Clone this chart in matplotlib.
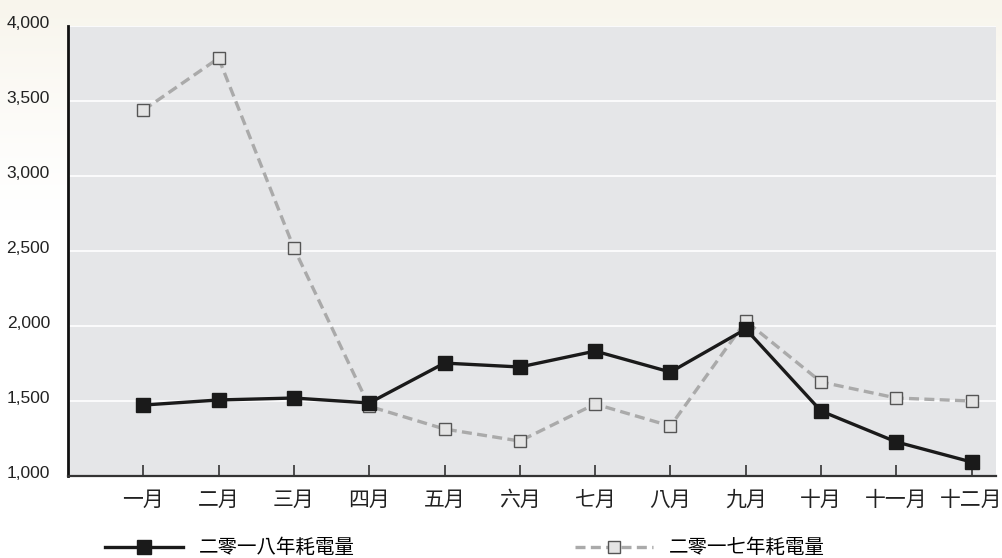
import numpy as np
import matplotlib
matplotlib.use("Agg")
import matplotlib.pyplot as plt
import matplotlib.transforms as mtransforms

plt.rcParams['font.family'] = ['Liberation Sans', 'Noto Sans CJK TC', 'DejaVu Sans']

months = ["一月", "二月", "三月", "四月", "五月", "六月",
          "七月", "八月", "九月", "十月", "十一月", "十二月"]
usage_2018 = [1473, 1507, 1520, 1487, 1753, 1727, 1833, 1693, 1980, 1433, 1227, 1093]
usage_2017 = [3440, 3787, 2520, 1465, 1313, 1233, 1480, 1333, 2033, 1627, 1520, 1500]
label_2018 = "二零一八年耗電量"
label_2017 = "二零一七年耗電量"

cjk = ['Noto Sans CJK TC', 'DejaVu Sans']

fig = plt.figure(figsize=(10.03, 5.58), dpi=100, facecolor="white")

# cream fade at the top of the page
bg = fig.add_axes([0, 0, 1, 1], zorder=-10)
yy = np.linspace(1, 0, 558).reshape(-1, 1)
grad = np.clip((yy - 0.6) / 0.4, 0, 1) ** 1.3
bg.imshow(grad, aspect="auto", extent=[0, 1, 0, 1],
          cmap=matplotlib.colors.LinearSegmentedColormap.from_list("c", ["white", "#f8f5ec"]),
          vmin=0, vmax=1)
bg.axis("off")

ax = fig.add_axes([0.0678, 0.147, 0.925, 0.806])
ax.set_facecolor("#e5e6e8")

x = np.arange(1, len(months) + 1)
ax.plot(x, usage_2017, color="#aaaaaa", lw=2.4, ls=(0, (3, 1.6)),
        marker="s", ms=9, mfc="#e4e4e4", mec="#555555", mew=1.0, zorder=3,
        label=label_2017)
ax.plot(x, usage_2018, color="#1a1a1a", lw=2.4,
        marker="s", ms=9.5, mfc="#1a1a1a", mec="#1a1a1a", zorder=4,
        label=label_2018)

ax.set_xlim(0, 12.32)
ax.set_ylim(1000, 4000)
ax.set_yticks(np.arange(1000, 4001, 500))
ax.set_yticklabels([f"{v:,}" for v in range(1000, 4001, 500)], fontsize=12.5, color="#222222")
ax.set_xticks(x)
ax.set_xticklabels(months, fontsize=15, family=cjk, color="#222222")
ax.grid(axis="y", color="white", lw=1.2)
ax.set_axisbelow(True)

ax.tick_params(axis="y", length=0, pad=13)
ax.tick_params(axis="x", direction="in", length=8, width=1.2, color="#333333", pad=9)
# numbers sit a little above their gridlines
shift = mtransforms.ScaledTranslation(0, 3 / 72, fig.dpi_scale_trans)
for lab in ax.get_yticklabels():
    lab.set_transform(lab.get_transform() + shift)
for s in ["top", "right"]:
    ax.spines[s].set_visible(False)
ax.spines["left"].set_linewidth(2)
ax.spines["left"].set_color("#111111")
ax.spines["bottom"].set_linewidth(1.6)
ax.spines["bottom"].set_color("#333333")

h17, h18 = ax.get_lines()
for h, xpos in [(h18, 0.0967), (h17, 0.5655)]:
    fig.legend(handles=[h], loc="center left", bbox_to_anchor=(xpos, 0.018),
               frameon=False, handlelength=4.0, handletextpad=0.85, numpoints=1,
               borderaxespad=0, prop={'family': cjk, 'size': 14})

fig.savefig("out.png", dpi=100, facecolor=fig.get_facecolor())
